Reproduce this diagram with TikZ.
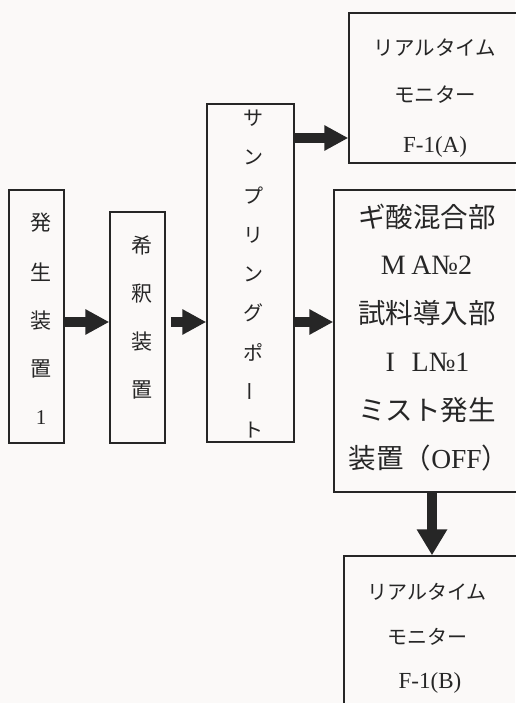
\documentclass[tikz,border=0pt]{standalone}
\usepackage{fontspec}
\setmainfont{Liberation Serif}
\newfontfamily\jp{Noto Sans CJK JP}
\usetikzlibrary{arrows.meta}
\definecolor{paper}{RGB}{251,249,248}
\definecolor{ink}{RGB}{38,38,38}
\begin{document}
\begin{tikzpicture}[x=1pt,y=-1pt,
  box/.style={draw=ink, line width=1.5pt, inner sep=0pt},
  flow/.style={draw=ink, line width=9.5pt,
    -{Triangle[length=24pt,width=24pt]}},
  txt/.style={inner sep=0pt, text=ink}]
% paper
\fill[paper] (0,0) rectangle (515,703);
\useasboundingbox (0,0) rectangle (515,703);

% process boxes
\node[box, minimum width=55pt, minimum height=253pt] (gen) at (36.5,316.5) {};
\node[box, minimum width=55pt, minimum height=231pt] (dil) at (137.5,327.5) {};
\node[box, minimum width=87pt, minimum height=338pt] (port) at (250.5,273) {};
\node[box, minimum width=178pt, minimum height=150pt] (monA) at (438,88) {};
\node[box, minimum width=196pt, minimum height=302pt] (mix) at (432,341) {};
\node[box, minimum width=176pt, minimum height=160pt] (monB) at (432,636) {};

% vertical labels
\foreach \c [count=\i] in {発,生,装,置,{\rmfamily 1}}
  \node[txt, font=\jp\fontsize{21}{21}\selectfont] (gen-t\i) at (41,{223+(\i-1)*48.75}) {\c};
\foreach \c [count=\i] in {希,釈,装,置}
  \node[txt, font=\jp\fontsize{21}{21}\selectfont] (dil-t\i) at (142,{245+(\i-1)*48.3}) {\c};
\foreach \c [count=\i] in {サ,ン,プ,リ,ン,グ,ポ,{\rotatebox[origin=c]{90}{ー}},ト}
  \node[txt, font=\jp\fontsize{20}{20}\selectfont] (port-t\i) at (253,{118+(\i-1)*39}) {\c};

% monitor A
\node[txt, font=\jp\fontsize{20.5}{20.5}\selectfont] (monA-1) at (435,48) {リアルタイム};
\node[txt, font=\jp\fontsize{20.5}{20.5}\selectfont] (monA-2) at (435,95) {モニター};
\node[txt, font=\fontsize{23}{23}\selectfont] (monA-3) at (435,147) {F-1(A)};

% mixing / inlet unit
\node[txt, font=\jp\fontsize{27.5}{27.5}\selectfont] (mix-1) at (427,217) {ギ酸混合部};
\node[txt, font=\fontsize{28}{28}\selectfont] (mix-2) at (426.5,265) {M\hspace{0.2em}A№2};
\node[txt, font=\jp\fontsize{27.5}{27.5}\selectfont] (mix-3) at (427,313) {試料導入部};
\node[txt, font=\fontsize{28}{28}\selectfont] (mix-4) at (427.5,362) {I\hspace{0.6em}L№1};
\node[txt, font=\jp\fontsize{27.5}{27.5}\selectfont] (mix-5) at (427,410) {ミスト発生};
\node[txt, font=\jp\fontsize{27.5}{27.5}\selectfont] (mix-6) at (429,458) {装置（{\rmfamily OFF}）};

% monitor B
\node[txt, font=\jp\fontsize{20}{20}\selectfont] (monB-1) at (427,592) {リアルタイム};
\node[txt, font=\jp\fontsize{20}{20}\selectfont] (monB-2) at (427,637) {モニター};
\node[txt, font=\fontsize{23}{23}\selectfont] (monB-3) at (430,683) {F-1(B)};

% flow arrows
\coordinate (row) at (0,322);
\coordinate (rowA) at (0,138);
\draw[flow] (gen.east |- row) -- (dil.west |- row);
\draw[flow, shorten <=5pt] (dil.east |- row) -- (port.west |- row);
\draw[flow] (port.east |- row) -- (mix.west |- row);
\draw[flow] (port.east |- rowA) -- (monA.west |- rowA);
\draw[flow, -{Triangle[length=26pt,width=29pt]}] (mix.south) -- (monB.north);
\end{tikzpicture}
\end{document}
